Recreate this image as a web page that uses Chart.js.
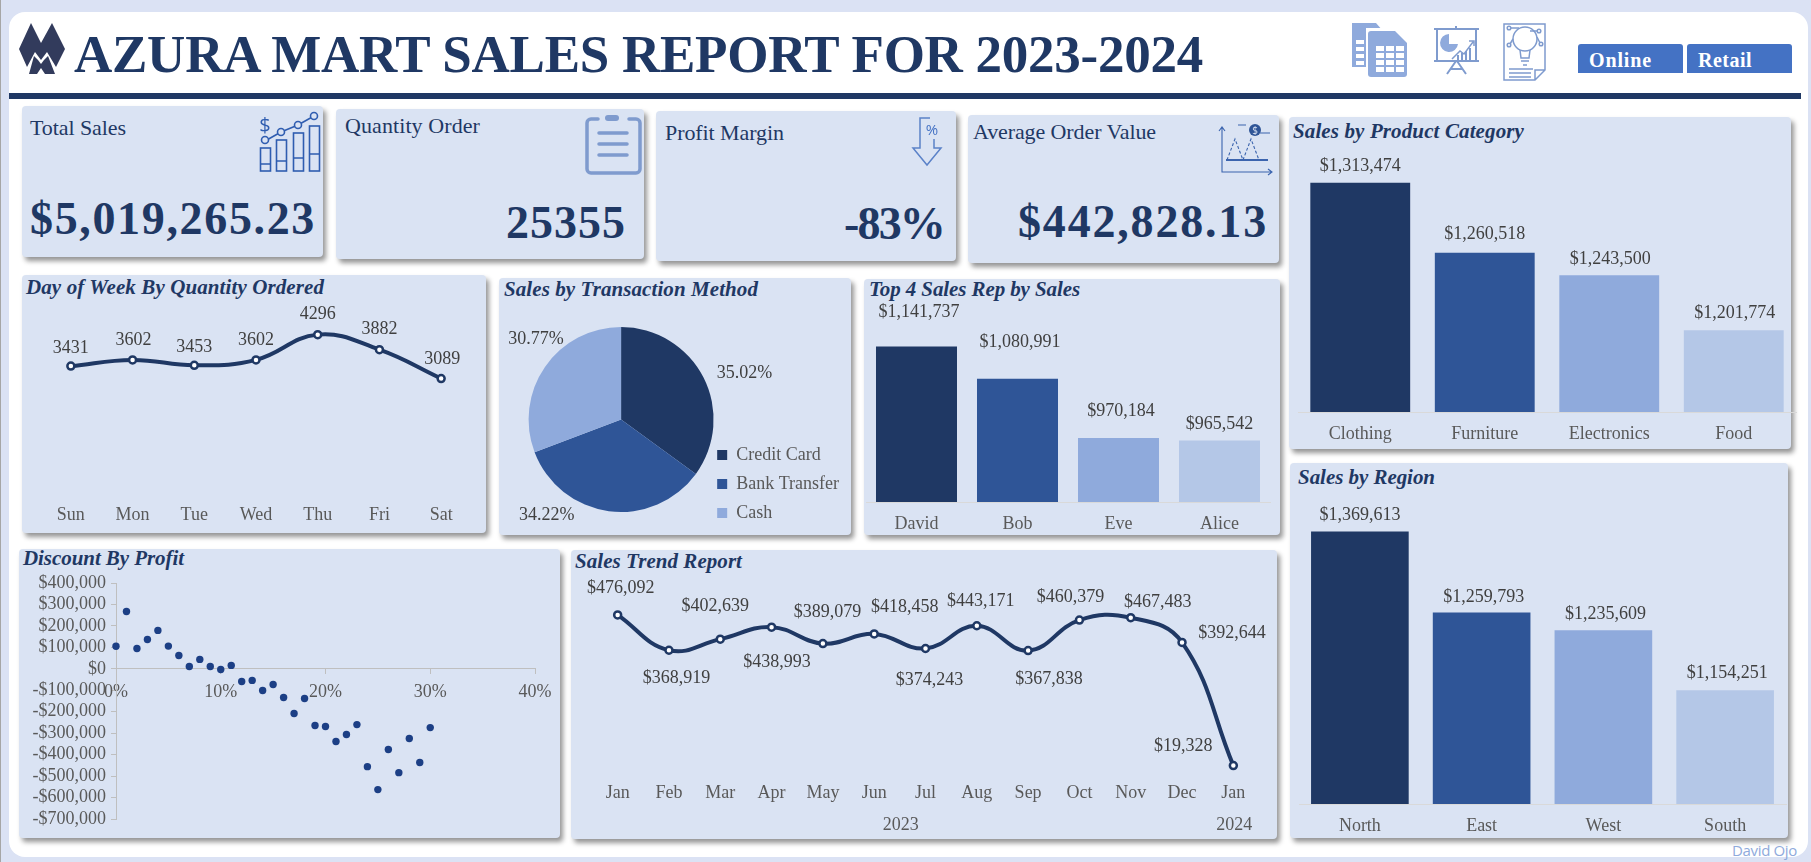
<!DOCTYPE html>
<html><head><meta charset="utf-8">
<script src="https://cdn.jsdelivr.net/npm/chart.js@4"></script>
<style>
html,body{margin:0;padding:0;width:1811px;height:862px;overflow:hidden;background:#DBE2F4;font-family:'Liberation Serif',serif;}
#edge{position:absolute;left:0;top:0;width:1px;height:862px;background:#A6A6A6}
#sheet{position:absolute;left:9px;top:12px;width:1799px;height:845px;background:#fff;border-radius:16px}
#rule{position:absolute;left:9px;top:93px;width:1792px;height:6px;background:#1F3864}
.panel{position:absolute;background:#DAE3F3;border-radius:4px;box-shadow:3px 4px 5px rgba(0,0,0,.42)}
.t{position:absolute;white-space:nowrap;transform:translateY(-50%);color:#1F3864;line-height:1}
.head{font-weight:bold;font-style:italic;font-size:21px}
.kl{font-size:22px}
.kv{font-weight:bold;font-size:46px}
.ttl{font-weight:bold;font-size:53px}
.bt{font-weight:bold;font-size:20px;color:#fff}
.sig{font-family:'Open Sans';font-size:15px}
canvas{position:absolute}
svg{position:absolute;overflow:visible}
.btn{position:absolute;background:#4472C4;top:44px;height:29px;width:105px;border-radius:3px 3px 0 0}
</style></head><body>
<div id="edge"></div><div id="sheet"></div><div id="rule"></div>
<div id="stage"></div>
<script>
// ---------- data ----------
const dayLabels = ['Sun','Mon','Tue','Wed','Thu','Fri','Sat'];
const dayQuantity = [3431,3602,3453,3602,4296,3882,3089];
const methodLabels = ['Credit Card','Bank Transfer','Cash'];
const methodShare = [35.02,34.22,30.77];
const repLabels = ['David','Bob','Eve','Alice'];
const repSales = [1141737,1080991,970184,965542];
const categoryLabels = ['Clothing','Furniture','Electronics','Food'];
const categorySales = [1313474,1260518,1243500,1201774];
const regionLabels = ['North','East','West','South'];
const regionSales = [1369613,1259793,1235609,1154251];
const monthLabels = ['Jan','Feb','Mar','Apr','May','Jun','Jul','Aug','Sep','Oct','Nov','Dec','Jan'];
const monthSales = [476092,368919,402639,438993,389079,418458,374243,443171,367838,460379,467483,392644,19328];
const discountPct = [0,1,2,3,4,5,6,7,8,9,10,11,12,13,14,15,16,17,18,19,20,21,22,23,24,25,26,27,28,29,30];
const discountProfit = [105000,267000,95000,137000,179000,106000,62000,11000,44000,11000,-3000,16000,-59000,-54000,-101000,-73000,-134000,-208000,-138000,-264000,-269000,-339000,-306000,-260000,-456000,-563000,-376000,-484000,-325000,-437000,-274000];
// ---------- look ----------
const NAVY='#1F3864', BLUE='#2F5597', MID='#8FAADC', PALE='#B4C7E7';
const FONT="'Liberation Serif'";
const money=v=>(v<0?'-':'')+'$'+Math.abs(v).toLocaleString('en-US');
const stage=document.getElementById('stage');

Chart.defaults.animation=false;
Chart.defaults.responsive=false;
Chart.defaults.font.family=FONT;
Chart.register({id:'pointLabels',afterDatasetsDraw(chart,_,o){
  if(!o.text) return;
  const c=chart.ctx, meta=chart.getDatasetMeta(0);
  c.save();c.font=(o.size||18)+'px '+FONT;c.fillStyle='#404040';c.textAlign='center';c.textBaseline='middle';
  o.text.forEach((s,i)=>{
    const el=meta.data[i]; let x=el.x,y=el.y;
    if(o.arc){const p=el.getProps(['startAngle','endAngle','outerRadius'],true),a=(p.startAngle+p.endAngle)/2;
      x+=Math.cos(a)*p.outerRadius;y+=Math.sin(a)*p.outerRadius;}
    const n=o.nudges[i];c.fillText(s,x+n[0],y+n[1]);
  });
  c.restore();
}});
Chart.register({id:'yearLabels',afterDraw(chart,_,o){
  if(!o.spans) return;
  const c=chart.ctx,xs=chart.scales.x;
  c.save();c.font='18px '+FONT;c.fillStyle='#595959';c.textAlign='center';c.textBaseline='middle';
  o.spans.forEach(s=>c.fillText(s.label,(xs.getPixelForValue(s.from)+xs.getPixelForValue(s.to))/2+1,o.y));
  c.restore();
}});

function panel(x,y,r,b){const d=document.createElement('div');d.className='panel';
  d.style.cssText+=`left:${x}px;top:${y}px;width:${r-x}px;height:${b-y}px`;stage.appendChild(d);}
function text(s,cls,x,cy,w,color){const d=document.createElement('div');d.className='t '+cls;d.textContent=s;
  d.style.left=x+'px';d.style.top=cy+'px';if(color)d.style.color=color;stage.appendChild(d);
  if(w){const m=d.getBoundingClientRect().width;d.style.letterSpacing=((w-m)/s.length)+'px';}return d;}
function canvas(x,y,r,b){const c=document.createElement('canvas');c.width=r-x;c.height=b-y;
  c.style.left=x+'px';c.style.top=y+'px';stage.appendChild(c);return c;}
const tickFont={size:18};

function barChart(box,plot,labels,values,min,max,nudges,pct,colors){
  const c=canvas(box.x,box.y,box.r,box.b);
  new Chart(c,{type:'bar',data:{labels,datasets:[{data:values,backgroundColor:colors,categoryPercentage:1,barPercentage:pct}]},
   options:{layout:{padding:{left:plot.l-box.x,right:box.r-plot.r,top:plot.t-box.y,bottom:0}},
    plugins:{legend:{display:false},tooltip:{enabled:false},pointLabels:{text:values.map(money),nudges}},
    scales:{y:{display:false,min,max},
      x:{afterFit(s){s.height=box.b-plot.b},grid:{display:false},border:{display:true,color:'#D9D9D9'},
         ticks:{font:tickFont,color:'#595959',padding:3,maxRotation:0,autoSkip:false}}}}});
}
function lineChart(box,plot,labels,values,min,max,nudges,fmt,pad,extra){
  const c=canvas(box.x,box.y,box.r,box.b);
  new Chart(c,{type:'line',data:{labels,datasets:[{data:values,borderColor:NAVY,borderWidth:4,tension:0.42,clip:false,
      pointRadius:3.5,pointBackgroundColor:'#fff',pointBorderColor:NAVY,pointBorderWidth:2.5}]},
   options:{layout:{padding:{left:plot.l-box.x,right:box.r-plot.r,top:plot.t-box.y,bottom:0}},
    plugins:Object.assign({legend:{display:false},tooltip:{enabled:false},pointLabels:{text:values.map(fmt),nudges}},extra||{}),
    scales:{y:{display:false,min,max},
      x:{offset:true,afterFit(s){s.height=box.b-plot.b},grid:{display:false},border:{display:false},
         ticks:{font:tickFont,color:'#595959',padding:pad,maxRotation:0,autoSkip:false}}}}});
}

// ---------- frames ----------
panel(22,106,323,257);panel(336,109,644,259);panel(656,111,956,261);panel(968,115,1279,263);
panel(1289,117,1791,449);panel(1290,463,1788,838);
panel(22,275,486,533);panel(499,278,851,535);panel(864,279,1280,535);
panel(19,549,560,838);panel(571,550,1277,839);

// ---------- text ----------
text('AZURA MART SALES REPORT FOR 2023-2024','ttl',74,54,1129);
text('Total Sales','kl',30,128,96);
text('Quantity Order','kl',345,126,135);
text('Profit Margin','kl',665,133,119);
text('Average Order Value','kl',973,132,183);
text('$5,019,265.23','kv',30,219,286);
text('25355','kv',506,223,120);
text('-83%','kv',844,224,100);
text('$442,828.13','kv',1018,222,250);
text('Day of Week By Quantity Ordered','head',26,287,298);
text('Sales by Transaction Method','head',504,289,254);
text('Top 4 Sales Rep by Sales','head',869,289,211);
text('Sales by Product Category','head',1293,131,231);
text('Sales by Region','head',1298,477,137);
text('Discount By Profit','head',23,558,161);
text('Sales Trend Report','head',575,561,167);
text('David Ojo','sig',1732,850,65,MID);
['Online','Retail'].forEach((s,i)=>{const b=document.createElement('div');b.className='btn';b.style.left=(1578+i*109)+'px';stage.appendChild(b);
  text(s,'bt',i?1698:1589,60,i?54:63,'#fff');});

// ---------- charts ----------
lineChart({x:22,y:275,r:486,b:533},{l:40,r:472,t:309,b:491},dayLabels,dayQuantity,0,5000,
  [[0,-18],[1,-20],[0,-18],[0,-20],[0,-20],[0,-20],[1,-19]],String,5);

(function(){
  const c=canvas(499,278,851,538);
  new Chart(c,{type:'pie',data:{labels:methodLabels,datasets:[{data:methodShare,backgroundColor:[NAVY,BLUE,MID],borderWidth:0,radius:92.5}]},
   options:{layout:{padding:{left:37,right:2,top:28,bottom:5}},
    plugins:{tooltip:{enabled:false},
      legend:{position:'right',align:'end',labels:{boxWidth:10,boxHeight:10,padding:11,color:'#595959',font:{size:18}}},
      pointLabels:{arc:true,text:methodShare.map(v=>v.toFixed(2)+'%'),nudges:[[41,-4],[-62,4],[-9,-28]]}}}});
})();

barChart({x:864,y:279,r:1280,b:535},{l:866,r:1270,t:342,b:502},repLabels,repSales,850000,1150000,
  [[2.5,-34],[2.5,-37],[2.5,-27],[0,-16]],0.802,[NAVY,BLUE,MID,PALE]);
barChart({x:1289,y:117,r:1800,b:449},{l:1298,r:1796,t:174,b:412},categoryLabels,categorySales,1140000,1320000,
  [[0,-16],[0,-18],[1,-16],[1,-17]],0.802,[NAVY,BLUE,MID,PALE]);
barChart({x:1290,y:463,r:1788,b:838},{l:1299,r:1786,t:509,b:804},regionLabels,regionSales,1000000,1400000,
  [[0,-16],[2,-15],[2,-16],[2,-17]],0.802,[NAVY,BLUE,MID,PALE]);

lineChart({x:571,y:550,r:1277,b:839},{l:592,r:1259,t:607,b:772},monthLabels,monthSales,0,500000,
  [[3,-27],[7.5,28],[-5,-33],[5.5,35],[4.5,-31],[30.6,-27],[4,32],[4,-24],[21,29],[-9,-23],[27,-15],[50,-9],[-50,-19]],money,2,
  {yearLabels:{y:825-550,spans:[{label:'2023',from:0,to:11},{label:'2024',from:12,to:12}]}});

(function(){
  const box={x:19,y:549,r:560,b:838},pts=discountPct.map((x,i)=>({x,y:discountProfit[i]}));
  const c=canvas(box.x,box.y,box.r,box.b);
  const axisGrid={drawOnChartArea:false,drawTicks:true,tickLength:5,color:'#BFBFBF'};
  new Chart(c,{type:'scatter',data:{datasets:[{data:pts,pointRadius:3.7,backgroundColor:'#1C3F85',borderWidth:0,clip:false}]},
   options:{layout:{padding:{left:0,right:box.r-535,top:583-box.y,bottom:box.b-819}},
    plugins:{legend:{display:false},tooltip:{enabled:false}},
    scales:{
      x:{type:'linear',position:{y:0},min:0,max:40,grid:axisGrid,border:{color:'#BFBFBF'},
         ticks:{stepSize:10,font:tickFont,color:'#595959',padding:8,maxRotation:0,callback:v=>v+'%'}},
      y:{type:'linear',position:'left',min:-700000,max:400000,grid:axisGrid,border:{color:'#BFBFBF'},
         afterFit(s){s.width=116-box.x},
         ticks:{stepSize:100000,autoSkip:false,font:tickFont,color:'#595959',padding:5,callback:v=>money(v)}}}}});
})();
</script>

<!-- decorative icons -->
<svg style="left:0;top:0" width="1811" height="862" viewBox="0 0 1811 862" fill="none">
 <!-- logo -->
 <g fill="#323B5C"><polygon points="31,23 41,43 52,23 65,49 56,67 47,52 41,60 35,52 27,67 19,49"/><polygon points="41,64 44,60 48,56 55,74 45,74 41,68 37,74 29,74 34,56 38,60" /></g>
 <!-- sheets -->
 <g><path d="M1352 23h24l7 8v36h-31z" fill="#8FAADC"/><path d="M1366 28h39v52h-39z" fill="#fff"/><path d="M1374 31h21l12 12v31a3 3 0 0 1-3 3h-33a3 3 0 0 1-3-3v-40a3 3 0 0 1 3-3z" fill="#8FAADC"/>
  <g fill="#fff"><rect x="1376" y="46" width="8" height="5"/><rect x="1386" y="46" width="8" height="5"/><rect x="1396" y="46" width="8" height="5"/><rect x="1376" y="53" width="8" height="5"/><rect x="1386" y="53" width="8" height="5"/><rect x="1396" y="53" width="8" height="5"/><rect x="1376" y="60" width="8" height="5"/><rect x="1386" y="60" width="8" height="5"/><rect x="1396" y="60" width="8" height="5"/><rect x="1376" y="67" width="8" height="5"/><rect x="1386" y="67" width="8" height="5"/><rect x="1396" y="67" width="8" height="5"/><rect x="1356" y="40" width="8" height="4"/><rect x="1356" y="47" width="8" height="4"/><rect x="1356" y="54" width="8" height="4"/><rect x="1356" y="61" width="8" height="4"/></g></g>
 <!-- board -->
 <g stroke="#7F9BCE" stroke-width="2"><path d="M1434 29h45M1434 61h45M1437 29v32M1476 29v32M1456 26v3M1456 61l-9 13M1457 61l9 13M1450 69h13"/><path d="M1449 34v10h9a9 9 0 1 1-9-10z" fill="#8FAADC" stroke="none"/><path d="M1452 59l8-8 4 3 9-12M1469 41h5v5" stroke-width="1.5"/><path d="M1458 60v-5M1462 60v-7M1466 60v-9M1470 60v-12" stroke-width="2"/></g>
 <!-- bulb document -->
 <g stroke="#7F9BCE" stroke-width="1.5"><path d="M1504 24h41v46l-10 10h-31zM1535 80v-10h10"/><circle cx="1525" cy="39" r="12"/><path d="M1520 50l1 8h8l1-8M1521 61h8M1523 65h4"/><circle cx="1509" cy="28" r="1.8"/><circle cx="1539" cy="31" r="1.8"/><circle cx="1509" cy="45" r="1.8"/><circle cx="1541" cy="44" r="1.8"/><path d="M1511 28h8M1537 31h-7M1510 44l3-5M1540 43l-3-6M1509 69h24M1509 73h22M1509 77h22"/></g>
 <!-- total sales -->
 <g stroke="#2F5DB0" stroke-width="1.6"><rect x="260.5" y="148" width="10" height="23"/><rect x="276.5" y="140" width="10" height="31"/><rect x="293.5" y="133" width="10" height="38"/><rect x="309.5" y="126" width="10" height="45"/><path d="M260 164h11M276 161h11M293 158h11M309 154h11M265 141l16-9 17-7 16-9"/><g fill="#DAE3F3"><circle cx="265" cy="140" r="3.5"/><circle cx="281" cy="132" r="3.5"/><circle cx="298" cy="125" r="3.5"/><circle cx="314" cy="116" r="3.5"/></g></g>
 <text x="265" y="132" text-anchor="middle" font-family="'Open Sans'" font-size="20" fill="#2F5DB0">$</text>
 <!-- clipboard -->
 <g stroke="#7F9BCE" stroke-width="3.5" stroke-linecap="round"><path d="M598 119h-7a4 4 0 0 0-4 4v46a4 4 0 0 0 4 4h45a4 4 0 0 0 4-4v-46a4 4 0 0 0-4-4h-7"/><path d="M599 133h28M599 144h28M599 155h28"/><path d="M608 118h8" stroke-width="6"/></g>
 <!-- arrow -->
 <path d="M930 118h-10v30h-7l14 17 14-17h-7v-9" stroke="#5B82C8" stroke-width="1.5"/>
 <text x="932" y="135" text-anchor="middle" font-family="'Open Sans'" font-size="15" fill="#4472C4">%</text>
 <!-- AOV -->
 <g stroke="#3B64AE" stroke-width="1.1"><path d="M1222 127v45h50M1268 169l4 3-4 3M1219 131l3-4 3 4"/><path d="M1227 160l8-21 8 21M1243 160l8-21 8 21" stroke-dasharray="3 2"/><path d="M1226 160h42" stroke-width="2"/><path d="M1238 125h8M1260 133h10"/></g>
 <circle cx="1255" cy="130" r="6" fill="#2F5597"/><text x="1255" y="134" text-anchor="middle" font-family="'Open Sans'" font-size="10" fill="#DAE3F3">$</text>
</svg>
</body></html>
